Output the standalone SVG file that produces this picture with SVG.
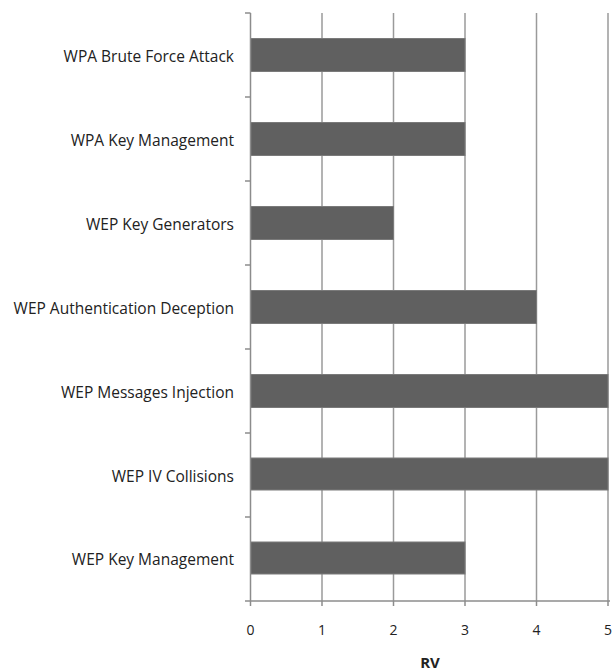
<svg xmlns="http://www.w3.org/2000/svg" width="612" height="671" viewBox="0 0 612 671">
  <style>
    .grid { stroke: #9a9a9a; stroke-width: 1.5; }
    .axis { stroke: #8c8c8c; stroke-width: 1.5; }
    .bar { fill: #606060; stroke: #7a7a7a; stroke-width: 1; }
    .lbl { font-family: "Open Sans", "Liberation Sans", sans-serif; font-size: 15.5px; fill: #222; text-anchor: end; }
    .tick { font-family: "Open Sans", "Liberation Sans", sans-serif; font-size: 14px; fill: #222; text-anchor: middle; }
    .title { font-family: "Open Sans", "Liberation Sans", sans-serif; font-size: 15px; font-weight: bold; fill: #222; text-anchor: middle; }
  </style>
  <rect width="612" height="671" fill="#ffffff"/>

  <!-- vertical gridlines at 1..5 -->
  <g id="gridlines">
    <line class="grid" x1="322" y1="13" x2="322" y2="601"/>
    <line class="grid" x1="393.5" y1="13" x2="393.5" y2="601"/>
    <line class="grid" x1="465" y1="13" x2="465" y2="601"/>
    <line class="grid" x1="536.5" y1="13" x2="536.5" y2="601"/>
    <line class="grid" x1="608" y1="13" x2="608" y2="601"/>
  </g>

  <!-- bars, one per attack category -->
  <g id="bar-wpa-brute"><rect class="bar" x="250.5" y="38.5" width="214.5" height="33"/></g>
  <g id="bar-wpa-key"><rect class="bar" x="250.5" y="122.5" width="214.5" height="33"/></g>
  <g id="bar-wep-gen"><rect class="bar" x="250.5" y="206.5" width="143" height="33"/></g>
  <g id="bar-wep-auth"><rect class="bar" x="250.5" y="290.5" width="286" height="33"/></g>
  <g id="bar-wep-inj"><rect class="bar" x="250.5" y="374.5" width="357.5" height="33"/></g>
  <g id="bar-wep-iv"><rect class="bar" x="250.5" y="458" width="357.5" height="32"/></g>
  <g id="bar-wep-key"><rect class="bar" x="250.5" y="542" width="214.5" height="32"/></g>

  <!-- axes and tick marks -->
  <g id="axes">
    <line class="axis" x1="250.5" y1="13" x2="250.5" y2="601"/>
    <line class="axis" x1="245" y1="601" x2="610" y2="601"/>
    <line class="axis" x1="245" y1="13" x2="250.5" y2="13"/>
    <line class="axis" x1="245" y1="97" x2="250.5" y2="97"/>
    <line class="axis" x1="245" y1="181" x2="250.5" y2="181"/>
    <line class="axis" x1="245" y1="265" x2="250.5" y2="265"/>
    <line class="axis" x1="245" y1="349" x2="250.5" y2="349"/>
    <line class="axis" x1="245" y1="433" x2="250.5" y2="433"/>
    <line class="axis" x1="245" y1="517" x2="250.5" y2="517"/>
    <line class="axis" x1="250.5" y1="601" x2="250.5" y2="606"/>
    <line class="axis" x1="322" y1="601" x2="322" y2="606"/>
    <line class="axis" x1="393.5" y1="601" x2="393.5" y2="606"/>
    <line class="axis" x1="465" y1="601" x2="465" y2="606"/>
    <line class="axis" x1="536.5" y1="601" x2="536.5" y2="606"/>
    <line class="axis" x1="608" y1="601" x2="608" y2="606"/>
  </g>

  <!-- category labels -->
  <g id="labels">
    <text class="lbl" x="234" y="62">WPA Brute Force Attack</text>
    <text class="lbl" x="234" y="146">WPA Key Management</text>
    <text class="lbl" x="234" y="230">WEP Key Generators</text>
    <text class="lbl" x="234" y="314">WEP Authentication Deception</text>
    <text class="lbl" x="234" y="398">WEP Messages Injection</text>
    <text class="lbl" x="234" y="482">WEP IV Collisions</text>
    <text class="lbl" x="234" y="565">WEP Key Management</text>
  </g>

  <!-- value axis labels -->
  <g id="value-labels">
    <text class="tick" x="250.5" y="635">0</text>
    <text class="tick" x="322" y="635">1</text>
    <text class="tick" x="393.5" y="635">2</text>
    <text class="tick" x="465" y="635">3</text>
    <text class="tick" x="536.5" y="635">4</text>
    <text class="tick" x="608" y="635">5</text>
    <text class="title" x="430" y="668">RV</text>
  </g>
</svg>
